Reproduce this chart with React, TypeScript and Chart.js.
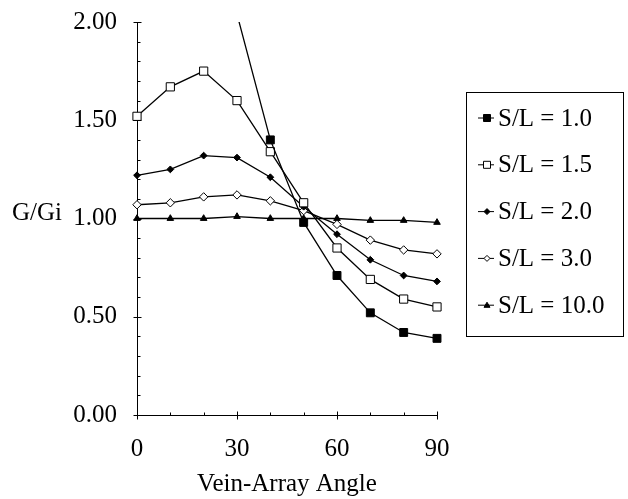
import React, { useEffect, useRef } from 'react';
import { Chart, registerables } from 'chart.js';

Chart.register(...registerables);

const angles = [0, 10, 20, 30, 40, 50, 60, 70, 80, 90];
const seriesLabels = ['S/L = 1.0', 'S/L = 1.5', 'S/L = 2.0', 'S/L = 3.0', 'S/L = 10.0'];
const sl1_0 = [null, null, null, 2.04, 1.40, 0.98, 0.71, 0.52, 0.42, 0.39];
const sl1_5 = [1.52, 1.67, 1.75, 1.60, 1.34, 1.08, 0.85, 0.69, 0.59, 0.55];
const sl2_0 = [1.22, 1.25, 1.32, 1.31, 1.21, 1.06, 0.92, 0.79, 0.71, 0.68];
const sl3_0 = [1.07, 1.08, 1.11, 1.12, 1.09, 1.04, 0.97, 0.89, 0.84, 0.82];
const sl10_0 = [1.00, 1.00, 1.00, 1.01, 1.00, 1.00, 1.00, 0.99, 0.99, 0.98];
const yTickValues = [0, 0.5, 1.0, 1.5, 2.0];
const xTickValues = [0, 30, 60, 90];
const yTitle = 'G/Gi';
const xTitle = 'Vein-Array Angle';

const FONT = '"Liberation Serif", "Times New Roman", serif';
const FS = 25;

type Marker = { shape: 'rect' | 'rectRot' | 'triangle'; filled: boolean };
const markers: Marker[] = [
  { shape: 'rect', filled: true },
  { shape: 'rect', filled: false },
  { shape: 'rectRot', filled: true },
  { shape: 'rectRot', filled: false },
  { shape: 'triangle', filled: true },
];
const radii = [5.6, 5.8, 3.4, 4.2, 3.8];

function drawMarker(ctx: CanvasRenderingContext2D, m: Marker, x: number, y: number, r: number) {
  ctx.beginPath();
  if (m.shape === 'rect') {
    ctx.rect(x - r, y - r, 2 * r, 2 * r);
  } else if (m.shape === 'rectRot') {
    ctx.moveTo(x, y - r);
    ctx.lineTo(x + r, y);
    ctx.lineTo(x, y + r);
    ctx.lineTo(x - r, y);
    ctx.closePath();
  } else {
    ctx.moveTo(x, y - r);
    ctx.lineTo(x + r, y + r * 0.7);
    ctx.lineTo(x - r, y + r * 0.7);
    ctx.closePath();
  }
  ctx.fillStyle = m.filled ? '#000' : '#fff';
  ctx.fill();
  ctx.lineWidth = 1;
  ctx.strokeStyle = '#000';
  ctx.stroke();
}

const decor = {
  id: 'decor',
  afterDraw(chart: any) {
    const { ctx, scales } = chart;
    const x = scales.x;
    const y = scales.y;
    ctx.save();
    ctx.strokeStyle = '#000';
    ctx.lineWidth = 1;
    const ax = Math.round(x.left) + 0.5;
    for (let i = 0; i <= 20; i++) {
      const v = i / 10;
      const py = Math.round(y.getPixelForValue(v)) + 0.5;
      const major = i % 5 === 0;
      ctx.beginPath();
      ctx.moveTo(ax - (major ? 4 : 0), py);
      ctx.lineTo(ax + (major ? 4 : 3), py);
      ctx.stroke();
    }
    const ay = Math.round(y.bottom) + 0.5;
    for (let i = 0; i <= 9; i++) {
      const v = i * 10;
      const px = Math.round(x.getPixelForValue(v)) + 0.5;
      const major = i % 3 === 0;
      ctx.beginPath();
      ctx.moveTo(px, ay - (major ? 4 : 3));
      ctx.lineTo(px, ay + (major ? 4 : 0));
      ctx.stroke();
    }
    // y title
    ctx.fillStyle = '#000';
    ctx.font = `${FS}px ${FONT}`;
    ctx.textAlign = 'left';
    ctx.textBaseline = 'middle';
    ctx.fillText(yTitle, 12, y.getPixelForValue(1) - 5);

    // legend
    const bx = 466.5, by = 92.5, bw = 157, bh = 244;
    ctx.strokeRect(bx, by, bw, bh);
    chart.data.datasets.forEach((ds: any, i: number) => {
      const cy = 118 + i * 46.8;
      ctx.beginPath();
      ctx.moveTo(478, cy);
      ctx.lineTo(494, cy);
      ctx.lineWidth = 1;
      ctx.stroke();
      drawMarker(ctx, markers[i], 487, cy, i < 2 ? 3.5 : 3);
      ctx.fillStyle = '#000';
      ctx.font = `${FS}px ${FONT}`;
      ctx.textAlign = 'left';
      ctx.textBaseline = 'middle';
      ctx.fillText(ds.label, 498, cy + 1);
    });
    ctx.restore();
  },
};

export default function App() {
  const ref = useRef<HTMLCanvasElement>(null);
  useEffect(() => {
    if (!ref.current) return;
    const seriesData = [sl1_0, sl1_5, sl2_0, sl3_0, sl10_0];
    const datasets = seriesData.map((vals, i) => ({
      label: seriesLabels[i],
      data: angles.map((a, j) => ({ x: a, y: vals[j] })),
      borderColor: '#000',
      borderWidth: 1.3,
      pointStyle: markers[i].shape,
      pointRadius: radii[i],
      pointBackgroundColor: markers[i].filled ? '#000' : '#fff',
      pointBorderColor: '#000',
      pointBorderWidth: 1,
      spanGaps: false,
      tension: 0,
      clip: i === 0 ? { left: 10, top: 0, right: 10, bottom: 10 } : 10,
    }));
    const chart = new Chart(ref.current, {
      type: 'line',
      data: { datasets },
      options: {
        animation: false,
        responsive: false,
        layout: { padding: { top: 22, right: 191, left: 0, bottom: 0 } },
        plugins: { legend: { display: false }, tooltip: { enabled: false } },
        scales: {
          x: {
            type: 'linear',
            min: 0,
            max: 90,
            afterBuildTicks: (s: any) => { s.ticks = xTickValues.map((v) => ({ value: v })); },
            afterFit: (s: any) => { s.height = 84; s.paddingLeft = 0; s.paddingRight = 0; },
            grid: { display: false, drawTicks: false },
            border: { display: true, color: '#000', width: 1 },
            ticks: { color: '#000', font: { family: FONT, size: FS }, padding: 19, maxRotation: 0 },
            title: { display: true, text: xTitle, color: '#000', font: { family: FONT, size: FS }, padding: { top: 0, bottom: 0 } },
          },
          y: {
            type: 'linear',
            min: 0,
            max: 2,
            afterBuildTicks: (s: any) => { s.ticks = yTickValues.map((v) => ({ value: v })); },
            afterFit: (s: any) => { s.width = 137; s.paddingTop = 0; s.paddingBottom = 0; },
            grid: { display: false, drawTicks: false },
            border: { display: true, color: '#000', width: 1 },
            ticks: {
              color: '#000',
              font: { family: FONT, size: FS },
              padding: 20,
              callback: (v: any) => Number(v).toFixed(2),
            },
          },
        },
      },
      plugins: [decor],
    });
    return () => chart.destroy();
  }, []);
  return (
    <div style={{ position: 'absolute', left: 0, top: 0, width: 628, height: 499, background: '#fff' }}>
      <canvas ref={ref} width={628} height={499} />
    </div>
  );
}
